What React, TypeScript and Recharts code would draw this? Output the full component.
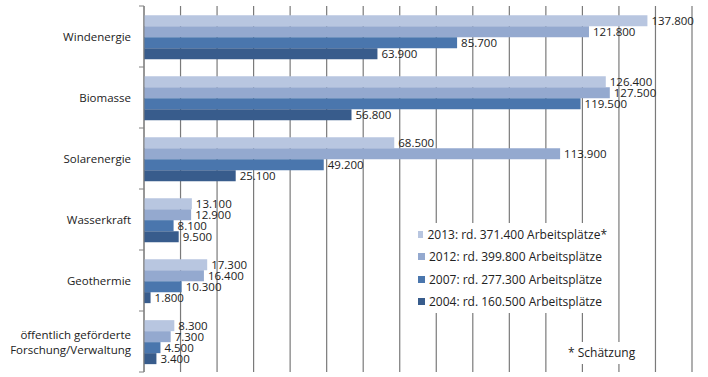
import { Bar, BarChart, CartesianGrid, LabelList, Legend, XAxis, YAxis } from "recharts"

const categories = [
  "Windenergie",
  "Biomasse",
  "Solarenergie",
  "Wasserkraft",
  "Geothermie",
  "öffentlich geförderte\nForschung/Verwaltung",
]

const jobs2013 = [137800, 126400, 68500, 13100, 17300, 8300]
const jobs2012 = [121800, 127500, 113900, 12900, 16400, 7300]
const jobs2007 = [85700, 119500, 49200, 8100, 10300, 4500]
const jobs2004 = [63900, 56800, 25100, 9500, 1800, 3400]

const xTicks = [0, 10000, 20000, 30000, 40000, 50000, 60000, 70000, 80000, 90000, 100000, 110000, 120000, 130000, 140000, 150000]

const series = [
  { key: "y2013", name: "2013: rd. 371.400 Arbeitsplätze*", color: "#b8c6e0" },
  { key: "y2012", name: "2012: rd. 399.800 Arbeitsplätze", color: "#94a9cf" },
  { key: "y2007", name: "2007: rd. 277.300 Arbeitsplätze", color: "#4a76ad" },
  { key: "y2004", name: "2004: rd. 160.500 Arbeitsplätze", color: "#385c8c" },
]

const data = categories.map((name, i) => ({
  name,
  y2013: jobs2013[i],
  y2012: jobs2012[i],
  y2007: jobs2007[i],
  y2004: jobs2004[i],
}))

const W = 708
const H = 377
const MARGIN = { top: 6, right: 16, bottom: 5, left: 0 }
const BAND = (H - MARGIN.top - MARGIN.bottom) / categories.length
const FONT = "'Open Sans', sans-serif"

const fmt = (v: number) => String(v).replace(/\B(?=(\d{3})+(?!\d))/g, ".")

function CategoryTick(props: any) {
  const { x, y, payload, index } = props
  const lines = String(payload.value).split("\n")
  const top = y - BAND / 2
  return (
    <g>
      <line x1={x - 5} x2={x} y1={top} y2={top} stroke="#808080" />
      {index === categories.length - 1 && (
        <line x1={x - 5} x2={x} y1={top + BAND} y2={top + BAND} stroke="#808080" />
      )}
      <text x={x - 13} y={y} textAnchor="end" fontFamily={FONT} fontSize={11.5} fill="#222">
        {lines.map((l, k) => (
          <tspan key={k} x={x - 13} dy={k === 0 ? (lines.length === 1 ? 4 : -3) : 15}>
            {l}
          </tspan>
        ))}
      </text>
    </g>
  )
}

function LegendBox() {
  return (
    <div style={{ background: "#fff", padding: "0 0 0 3px", fontFamily: FONT, fontSize: 12, color: "#222", whiteSpace: "nowrap" }}>
      {series.map((s) => (
        <div key={s.key} style={{ height: 22.5, display: "flex", alignItems: "center" }}>
          <span style={{ width: 7, height: 7, background: s.color, marginRight: 4, display: "inline-block" }} />
          {s.name}
        </div>
      ))}
    </div>
  )
}

export default function App() {
  return (
    <div style={{ position: "absolute", left: 0, top: 0, width: W, height: H, background: "#fff" }}>
      <BarChart
        width={W}
        height={H}
        data={data}
        layout="vertical"
        margin={MARGIN}
        barCategoryGap="15%"
        barGap={0}
      >
        <CartesianGrid horizontal={false} vertical stroke="#7a7a7a" strokeWidth={1.2} />
        <XAxis type="number" domain={[0, 150000]} ticks={xTicks} tickCount={16} interval={0} hide />
        <YAxis
          type="category"
          dataKey="name"
          width={144}
          tickSize={0}
          tickMargin={0}
          tickLine={false}
          axisLine={{ stroke: "#808080" }}
          tick={<CategoryTick />}
          interval={0}
        />
        <Legend
          layout="vertical"
          align="center"
          verticalAlign="middle"
          wrapperStyle={{ left: 415, top: 223, width: 192 }}
          content={() => <LegendBox />}
        />
        {series.map((s) => (
          <Bar key={s.key} dataKey={s.key} name={s.name} fill={s.color} isAnimationActive={false}>
            <LabelList
              dataKey={s.key}
              position="right"
              offset={4}
              formatter={(v: any) => fmt(Number(v))}
              style={{ fontFamily: FONT, fontSize: 11.5, fill: "#222" }}
            />
          </Bar>
        ))}
      </BarChart>
      <div
        style={{
          position: "absolute",
          left: 565,
          top: 342,
          padding: "3px 3px",
          background: "#fff",
          fontFamily: FONT,
          fontSize: 12,
          lineHeight: "16px",
          color: "#222",
        }}
      >
        * Schätzung
      </div>
    </div>
  )
}
